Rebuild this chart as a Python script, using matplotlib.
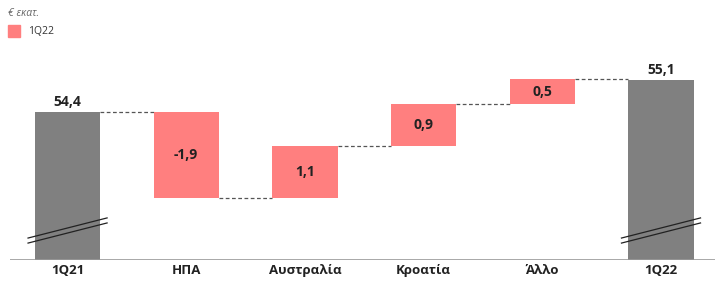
import matplotlib
matplotlib.use("Agg")
import matplotlib.pyplot as plt
from matplotlib.patches import Rectangle

plt.rcParams['font.family'] = ['Open Sans', 'DejaVu Sans']

categories = ["1Q21", "ΗΠΑ", "Αυστραλία", "Κροατία", "Άλλο", "1Q22"]
start_value = 54.4
# unrounded step sizes
deltas = [-1.88, 1.14, 0.90, 0.55]
end_value = 55.1
labels = ["54,4", "-1,9", "1,1", "0,9", "0,5", "55,1"]
legend_label = "1Q22"
unit_label = "€ εκατ."

GRAY = "#808080"
PINK = "#FF7F7F"
TXT = "#222222"

fig = plt.figure(figsize=(7.2, 2.81), dpi=100)
ax = fig.add_axes([10/720, 21/281, 705/720, 220/281])
ymin, ymax = 51.16, 55.97
ax.set_xlim(-0.485, 5.455)
ax.set_ylim(ymin, ymax)
w = 0.55

x_pos = list(range(len(categories)))
ax.bar(x_pos[0], start_value - ymin, bottom=ymin, width=w, color=GRAY, zorder=2)
ax.bar(x_pos[-1], end_value - ymin, bottom=ymin, width=w, color=GRAY, zorder=2)

levels = [start_value]
cur = start_value
for i, d in enumerate(deltas):
    lo = min(cur, cur + d)
    ax.bar(x_pos[i+1], abs(d), bottom=lo, width=w, color=PINK, zorder=2)
    ax.text(x_pos[i+1], lo + abs(d)/2, labels[i+1], ha='center', va='center',
            fontsize=10, fontweight='bold', color=TXT)
    cur += d
    levels.append(cur)

for i in range(len(categories)-1):
    y = levels[i] if i < len(levels) else end_value
    ax.plot([x_pos[i] + w/2, x_pos[i+1] - w/2], [y, y], ls=(0, (3, 2)),
            color="#555555", lw=0.9, zorder=1)

ax.text(x_pos[0], start_value + 0.06, labels[0], ha='center', va='bottom',
        fontsize=10, fontweight='bold', color=TXT)
ax.text(x_pos[-1], end_value + 0.06, labels[-1], ha='center', va='bottom',
        fontsize=10, fontweight='bold', color=TXT)

# axis break marks on total bars
for c in (x_pos[0], x_pos[-1]):
    for off in (0.0, -0.11):
        ax.plot([c - 0.333, c + 0.333], [51.64 + off, 52.08 + off],
                color="#222222", lw=0.9, zorder=3)

ax.axhline(ymin, color="#999999", lw=1.2, zorder=4)
for s in ax.spines.values():
    s.set_visible(False)
ax.set_yticks([])
ax.set_xticks(x_pos)
ax.set_xticklabels(categories, fontsize=9.5, fontweight='bold', color=TXT)
ax.tick_params(axis='x', length=0, pad=3)

fig.text(8/720, 1 - 13/281, unit_label, fontsize=7.5, style='italic',
         color="#666666", va='center', ha='left')
fig.patches.append(Rectangle((8/720, 1 - 37/281), 12/720, 12/281,
                             transform=fig.transFigure, color=PINK))
fig.text(28/720, 1 - 31/281, legend_label, fontsize=7.5, color="#333333",
         va='center', ha='left')

fig.savefig("out.png", dpi=100)
